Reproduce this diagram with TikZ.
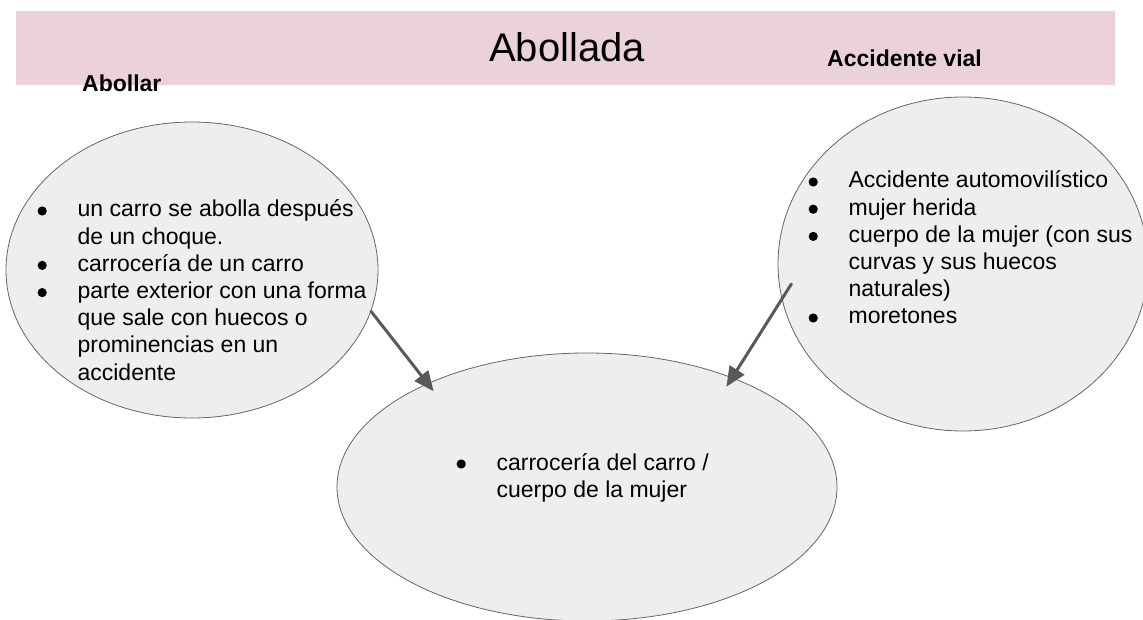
\documentclass[tikz,border=0pt]{standalone}
\usepackage{fontspec}
\setmainfont{Liberation Sans}
\usetikzlibrary{shapes.geometric}
\usetikzlibrary{arrows.meta}
\definecolor{rosado}{HTML}{EAD1DC}
\definecolor{relleno}{HTML}{EEEEEE}
\definecolor{borde}{HTML}{666666}
\definecolor{flecha}{HTML}{595959}
\newcommand{\punto}{\tikz[baseline=-6pt]\fill (0,0) circle (4.6pt);}
\tikzset{globo/.style={ellipse,draw=borde,fill=relleno,line width=0.8pt,inner sep=0pt},
  lista/.style={anchor=base west,inner sep=0pt,font=\fontsize{23}{27.2}\selectfont},
  rotulo/.style={anchor=base west,inner sep=0pt,font=\bfseries\fontsize{23}{27}\selectfont},
  flechita/.style={->,color=flecha,line width=3pt}}

\begin{document}
\begin{tikzpicture}[line cap=round,line join=round,>={Triangle[length=20pt,width=17pt]},x=1pt,y=-1pt]
\useasboundingbox (0,0) rectangle (1143,620);
\node[fill=rosado,inner sep=0pt,minimum width=1099pt,minimum height=74pt] (banda) at (565.5,48) {};
\node[anchor=base,inner sep=0pt,font=\fontsize{40}{48}\selectfont] (titulo) at (567,62) {Abollada};
\node[rotulo] (abollar) at (82,92) {Abollar};
\node[rotulo] (vial) at (827,67) {Accidente vial};
\node[globo,minimum width=372pt,minimum height=296pt] (izq) at (192,270) {};
\node[globo,minimum width=370pt,minimum height=334pt] (der) at (963,264) {};
\node[globo,minimum width=500pt,minimum height=268pt] (abajo) at (587,487) {};
\draw[flechita,shorten >=-10pt] (izq.-13) -- (abajo.147.6);
\draw[flechita,shorten <=-18pt,shorten >=-11pt] (der.191) -- (abajo.37);
\node[lista] (txtizq) at (37.4,217) {\begin{tabular}[t]{@{}p{40pt}@{}l@{}}
\punto & un carro se abolla después\\
 & de un choque.\\
\punto & carrocería de un carro\\
\punto & parte exterior con una forma\\
 & que sale con huecos o\\
 & prominencias en un\\
 & accidente
\end{tabular}};
\node[lista] (txtder) at (808.4,188) {\begin{tabular}[t]{@{}p{40pt}@{}l@{}}
\punto & Accidente automovilístico\\
\punto & mujer herida\\
\punto & cuerpo de la mujer (con sus\\
 & curvas y sus huecos\\
 & naturales)\\
\punto & moretones
\end{tabular}};
\node[lista] (txtabajo) at (456.4,470) {\begin{tabular}[t]{@{}p{40pt}@{}l@{}}
\punto & carrocería del carro /\\
 & cuerpo de la mujer
\end{tabular}};
\end{tikzpicture}
\end{document}
